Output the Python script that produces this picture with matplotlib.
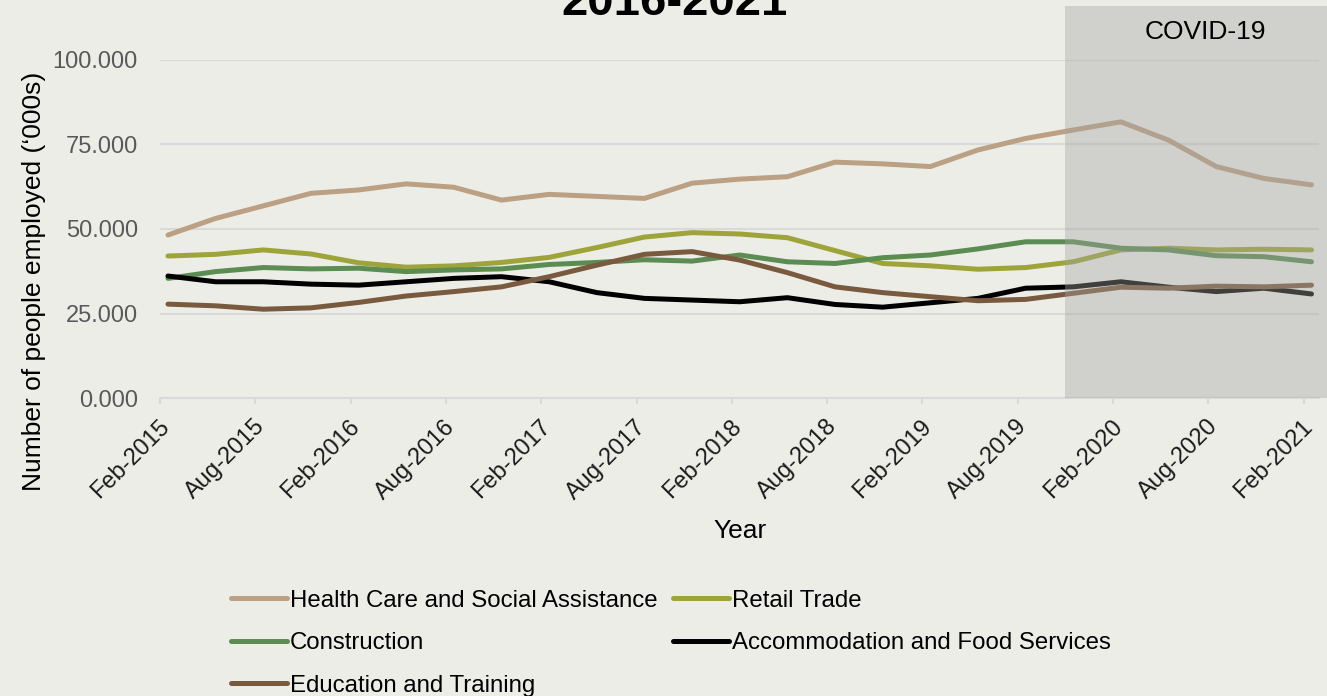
"""
Employment by industry, quarterly, with the COVID-19 period shaded
"""

import matplotlib
matplotlib.use("Agg")
import matplotlib.pyplot as plt
import matplotlib.transforms as mtransforms
from matplotlib.patches import Rectangle

plt.rcParams["font.family"] = ["Liberation Sans", "DejaVu Sans"]

# months since Feb-2015, one reading every quarter
months = list(range(0, 73, 3))

tick_labels = [
    "Feb-2015", "Aug-2015", "Feb-2016", "Aug-2016", "Feb-2017", "Aug-2017",
    "Feb-2018", "Aug-2018", "Feb-2019", "Aug-2019", "Feb-2020", "Aug-2020",
    "Feb-2021",
]

health_care = [48.2, 53.1, 56.8, 60.5, 61.5, 63.3, 62.3, 58.5, 60.2, 59.6,
               59.0, 63.5, 64.7, 65.4, 69.7, 69.2, 68.4, 73.3, 76.7, 79.2,
               81.6, 76.2, 68.4, 64.9, 63.0]
retail_trade = [42.0, 42.5, 43.8, 42.6, 40.0, 38.7, 39.1, 40.1, 41.6, 44.5,
                47.6, 48.9, 48.5, 47.4, 43.6, 39.8, 39.1, 38.1, 38.6, 40.3,
                43.8, 44.3, 43.8, 44.0, 43.8]
construction = [35.4, 37.4, 38.6, 38.2, 38.4, 37.4, 37.9, 38.2, 39.5, 40.1,
                40.9, 40.5, 42.3, 40.3, 39.8, 41.5, 42.3, 44.1, 46.2, 46.2,
                44.3, 43.8, 42.1, 41.8, 40.3]
accommodation = [36.1, 34.4, 34.4, 33.7, 33.4, 34.4, 35.4, 35.9, 34.4, 31.2,
                 29.5, 29.0, 28.5, 29.7, 27.7, 26.9, 28.2, 29.5, 32.5, 32.9,
                 34.4, 32.8, 31.5, 32.5, 30.8]
education = [27.8, 27.3, 26.3, 26.7, 28.3, 30.2, 31.5, 32.9, 35.9, 39.3,
             42.5, 43.3, 40.8, 37.1, 32.9, 31.2, 30.0, 28.8, 29.2, 31.0,
             32.8, 32.5, 33.1, 32.9, 33.4]

covid_start = 57  # Nov-2019

series = [
    ("Health Care and Social Assistance", health_care, "#bba083"),
    ("Construction", construction, "#5b8c52"),
    ("Education and Training", education, "#7a5a3e"),
    ("Retail Trade", retail_trade, "#9fa43a"),
    ("Accommodation and Food Services", accommodation, "#000000"),
]
# drawing order matches the source chart
draw_order = [0, 3, 1, 4, 2]

bg = "#ededE8"
fig = plt.figure(figsize=(13.27, 6.96), dpi=100, facecolor=bg)
ax = fig.add_axes([0.1206, 0.4277, 0.8737, 0.4868], facecolor=bg)

x = [m + 0.5 for m in months]
handles = {}
for i in draw_order:
    label, values, color = series[i]
    (line,) = ax.plot(x, values, color=color, lw=3.6,
                      solid_capstyle="round", solid_joinstyle="round",
                      label=label, zorder=3)
    handles[i] = line

ax.set_xlim(0, 73)
ax.set_ylim(0, 100)
ax.set_yticks([0, 25, 50, 75, 100])
ax.set_yticklabels([f"{v:.3f}" for v in [0, 25, 50, 75, 100]])
ax.set_xticks(range(0, 73, 6))

ax.grid(axis="y", color="#d9d9d9", lw=1.5, zorder=0)
for s in ["top", "right", "left"]:
    ax.spines[s].set_visible(False)
ax.spines["bottom"].set_color("#d9d9d9")
ax.spines["bottom"].set_linewidth(1.5)
ax.tick_params(axis="y", length=0, pad=16, labelsize=17, labelcolor="#595959")
ax.tick_params(axis="x", length=4, width=1.5, color="#d9d9d9", pad=14,
               labelsize=17, labelcolor="#1a1a1a")

# rotated date labels, nudged right like the original
ax.set_xticklabels(tick_labels, rotation=45, ha="right", va="center",
                   rotation_mode="anchor")
offset = mtransforms.ScaledTranslation(0.06, 0, fig.dpi_scale_trans)
for lab in ax.get_xticklabels():
    lab.set_transform(lab.get_transform() + offset)

ax.set_xlabel("Year", fontsize=19)
ax.xaxis.set_label_coords(0.5, -0.356)
ax.set_ylabel("Number of people employed (\u2018000s)", fontsize=19)
ax.yaxis.set_label_coords(-0.098, 0.346)

# shaded COVID-19 period, reaching past the plot area
shade = Rectangle((covid_start, 0), 16.5, 115.8, facecolor="#a4a4a0",
                  alpha=0.39, edgecolor="none", clip_on=False, zorder=4)
ax.add_patch(shade)
ax.text(65.8, 108.1, "COVID-19", ha="center", va="center", fontsize=19,
        zorder=5)

fig.text(0.508, 0.979, "2016-2021", ha="center", va="baseline",
         fontsize=34, fontweight="bold")

leg = fig.legend([handles[i] for i in range(5)],
                 [series[i][0] for i in range(5)],
                 loc="upper left", bbox_to_anchor=(0.174, 0.153), ncol=2,
                 frameon=False, fontsize=17.3, handlelength=2.35,
                 handletextpad=0.1, columnspacing=0.65, labelspacing=0.86,
                 borderpad=0, borderaxespad=0)

fig.savefig("out.png", dpi=100, facecolor=bg)
